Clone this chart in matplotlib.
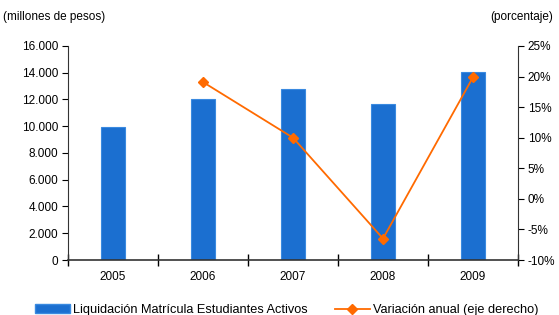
import numpy as np
import matplotlib
matplotlib.use("Agg")
import matplotlib.pyplot as plt
from matplotlib.lines import Line2D
from matplotlib.patches import Patch

plt.rcParams['font.family'] = ['Liberation Sans', 'DejaVu Sans']

years = ['2005', '2006', '2007', '2008', '2009']
liquidacion = [9950, 12050, 12750, 11650, 14050]
variacion_years = ['2006', '2007', '2008', '2009']
variacion = [19.1, 10.0, -6.5, 19.9]

left_ticks = [0, 2000, 4000, 6000, 8000, 10000, 12000, 14000, 16000]
right_ticks = [-10, -5, 0, 5, 10, 15, 20, 25]

bar_color = '#1b6fd0'
line_color = '#ff6a00'

fig = plt.figure(figsize=(5.59, 3.15), dpi=100)
ax = fig.add_axes([0.1216, 0.1746, 0.8051, 0.6794])

x = np.arange(len(years))
ax.bar(x, liquidacion, width=0.26, color=bar_color, edgecolor='#3a8ae0',
       linewidth=0.8, zorder=2)
ax.set_xlim(-0.5, len(years) - 0.5)
ax.set_ylim(0, 16000)
ax.set_yticks(left_ticks)
ax.set_yticklabels(['{:,}'.format(v).replace(',', '.') for v in left_ticks])
ax.set_xticks(x)
ax.set_xticklabels(years)
ax.tick_params(axis='x', length=0, pad=8, labelsize=8.5)
ax.set_xticks(np.arange(len(years) + 1) - 0.5, minor=True)
ax.tick_params(axis='x', which='minor', length=8, direction='inout', width=1)
ax.tick_params(axis='y', length=4, direction='out', labelsize=8.5, pad=3)

for side in ['top', 'right']:
    ax.spines[side].set_visible(False)
ax.spines['left'].set_color('#333333')
ax.spines['bottom'].set_color('#333333')
ax.spines['bottom'].set_linewidth(1.2)

ax2 = ax.twinx()
xv = [years.index(y) for y in variacion_years]
ax2.plot(xv, variacion, color=line_color, linewidth=1.3, marker='D',
         markersize=5.5, zorder=3)
ax2.set_ylim(-10, 25)
ax2.set_yticks(right_ticks)
ax2.set_yticklabels(['{}%'.format(v) for v in right_ticks])
ax2.tick_params(axis='y', length=4, direction='out', labelsize=8.5, pad=3)
for side in ['top', 'left', 'bottom']:
    ax2.spines[side].set_visible(False)
ax2.spines['right'].set_color('#333333')

fig.text(0.005, 0.945, '(millones de pesos)', fontsize=8.5, ha='left', va='center')
fig.text(0.99, 0.945, '(porcentaje)', fontsize=8.5, ha='right', va='center')

handles = [Patch(facecolor=bar_color, edgecolor='#3a8ae0'),
           Line2D([0], [0], color=line_color, marker='D', markersize=5, linewidth=1.3)]
labels = ['Liquidación Matrícula Estudiantes Activos', 'Variación anual (eje derecho)']
fig.legend(handles, labels, loc='center', bbox_to_anchor=(0.513, 0.015),
           ncol=2, frameon=False, fontsize=9.2, handlelength=2.75,
           handletextpad=0.25, columnspacing=2.1)

fig.savefig('out.png', dpi=100)
